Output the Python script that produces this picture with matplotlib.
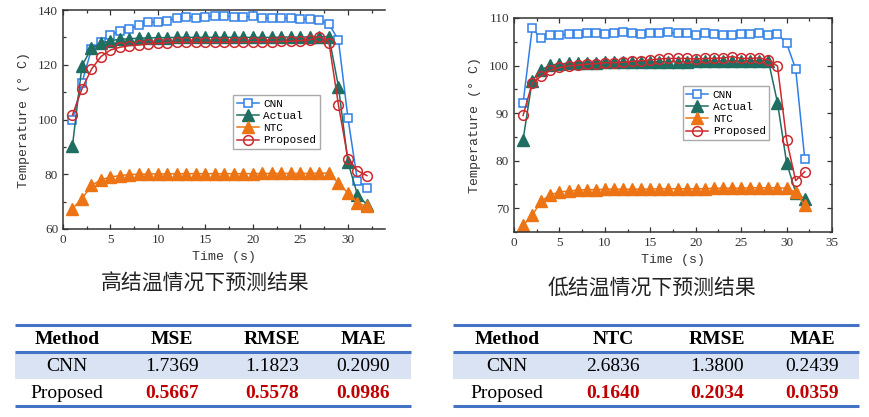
import numpy as np
import matplotlib
matplotlib.use("Agg")
import matplotlib.pyplot as plt
from matplotlib.ticker import MultipleLocator

plt.rcParams['font.family'] = ['Liberation Serif', 'DejaVu Serif']

# ---- data: high junction temperature ----
t = list(range(1, 33))
hi_cnn = [99.9, 113.5, 125.7, 128.4, 130.9, 132.3, 133.0, 134.7, 135.6, 135.5, 136.1,
          137.0, 137.6, 137.2, 137.6, 137.8, 137.8, 137.6, 137.3, 137.8, 137.0, 137.1,
          137.1, 137.0, 136.7, 136.6, 136.2, 134.9, 129.0, 100.5, 77.6, 75.0]
hi_actual = [90.5, 119.7, 126.0, 127.8, 128.8, 129.3, 129.5, 129.7, 129.8, 129.9, 129.9,
             130.0, 130.0, 130.0, 130.0, 130.0, 130.0, 130.0, 130.0, 130.0, 130.0, 130.0,
             130.1, 130.1, 130.1, 130.2, 130.2, 130.3, 112.0, 84.4, 72.5, 68.9]
hi_ntc = [67.4, 71.1, 75.9, 78.0, 79.0, 79.5, 79.9, 80.0, 80.1, 80.1, 80.1,
          80.2, 80.2, 80.2, 80.2, 80.2, 80.2, 80.2, 80.2, 80.2, 80.3, 80.3,
          80.3, 80.3, 80.3, 80.3, 80.4, 80.4, 76.8, 73.1, 69.5, 68.3]
hi_prop = [101.7, 111.2, 118.4, 123.0, 125.4, 126.4, 127.0, 127.2, 127.7, 127.8, 128.1,
           128.2, 128.2, 128.2, 128.2, 128.2, 128.2, 128.3, 128.3, 128.4, 128.4, 128.4,
           128.5, 128.6, 128.8, 129.1, 130.3, 128.1, 105.3, 85.7, 81.3, 79.5]

# ---- data: low junction temperature ----
lo_cnn = [92.1, 107.8, 105.7, 106.4, 106.4, 106.6, 106.6, 106.9, 106.9, 106.6, 106.8,
          107.0, 106.8, 106.6, 106.9, 106.8, 107.0, 106.8, 106.8, 106.5, 106.8, 106.6,
          106.5, 106.4, 106.7, 106.6, 106.8, 106.4, 106.6, 104.7, 99.3, 80.4]
lo_actual = [84.4, 96.8, 99.1, 100.1, 100.3, 100.5, 100.6, 100.6, 100.6, 100.7, 100.7,
             100.7, 100.7, 100.8, 100.8, 100.8, 100.8, 100.8, 100.8, 100.9, 100.9, 100.9,
             100.9, 100.9, 100.9, 101.0, 101.0, 101.0, 92.2, 79.6, 73.3, 71.9]
lo_ntc = [66.4, 68.5, 71.5, 72.8, 73.4, 73.6, 73.8, 73.9, 73.9, 74.0, 74.0,
          74.0, 74.0, 74.0, 74.0, 74.1, 74.1, 74.1, 74.1, 74.1, 74.1, 74.2,
          74.2, 74.2, 74.2, 74.3, 74.3, 74.3, 74.3, 74.2, 73.4, 70.6]
lo_prop = [89.5, 96.3, 97.8, 99.0, 99.6, 99.9, 100.1, 100.3, 100.4, 100.6, 100.6,
           100.7, 100.9, 101.0, 101.2, 101.4, 101.5, 101.5, 101.5, 101.4, 101.5, 101.5,
           101.6, 101.9, 101.5, 101.5, 101.6, 101.2, 99.9, 84.4, 75.8, 77.7]

# ---- tables ----
tab_cols_hi = ['Method', 'MSE', 'RMSE', 'MAE']
tab_cols_lo = ['Method', 'NTC', 'RMSE', 'MAE']
methods = ['CNN', 'Proposed']
tab_hi = [['1.7369', '1.1823', '0.2090'], ['0.5667', '0.5578', '0.0986']]
tab_lo = [['2.6836', '1.3800', '0.2439'], ['0.1640', '0.2034', '0.0359']]

captions = ['高结温情况下预测结果', '低结温情况下预测结果']

C_CNN = '#2f7fe6'
C_ACT = '#1f6e62'
C_NTC = '#ec7414'
C_PRO = '#cc2a2e'
LINE_BLUE = '#4472c4'


def draw_chart(ax, cnn, actual, ntc, prop):
    ax.plot(t, cnn, color=C_CNN, lw=1.1, marker='s', ms=5.5, mfc='white',
            mec=C_CNN, mew=1.1, label='CNN')
    ax.plot(t, actual, color=C_ACT, lw=1.1, marker='^', ms=8, label='Actual')
    ax.plot(t, ntc, color=C_NTC, lw=1.1, marker='^', ms=8, label='NTC')
    ax.plot(t, prop, color=C_PRO, lw=1.1, marker='o', ms=7, mfc='none',
            mec=C_PRO, mew=1.1, label='Proposed')
    ax.xaxis.set_major_locator(MultipleLocator(5))
    ax.xaxis.set_minor_locator(MultipleLocator(2.5))
    ax.tick_params(which='both', direction='in', top=True, labelsize=9.5,
                   colors='#333333', width=0.9)
    ax.tick_params(which='major', length=3.5)
    ax.tick_params(which='minor', length=2.5)
    for s in ax.spines.values():
        s.set_color('#333333')
        s.set_linewidth(1.1)
    ax.set_xlabel('Time (s)', fontsize=9.5, family=['Liberation Mono'], color='#333333',
                  labelpad=4)
    ax.set_ylabel('Temperature (° C)', fontsize=9.5, family=['Liberation Mono'],
                  color='#333333', labelpad=6)


fig = plt.figure(figsize=(8.7, 4.17), dpi=100)

ax1 = fig.add_axes([63 / 870, 1 - 229 / 417, 322 / 870, 219 / 417])
draw_chart(ax1, hi_cnn, hi_actual, hi_ntc, hi_prop)
ax1.set_xlim(0, 33.9)
ax1.set_ylim(60, 140)
ax1.yaxis.set_major_locator(MultipleLocator(20))
ax1.yaxis.set_minor_locator(MultipleLocator(10))
ax1.spines['right'].set_visible(False)
ax1.legend(loc='upper left', bbox_to_anchor=(0.512, 0.635),
           prop={'family': 'Liberation Mono', 'size': 8},
           fancybox=False, edgecolor='#aaaaaa', framealpha=1,
           labelspacing=0.2, borderpad=0.3, handlelength=2.0, handletextpad=0.4)

ax2 = fig.add_axes([514 / 870, 1 - 232 / 417, 318 / 870, 214 / 417])
draw_chart(ax2, lo_cnn, lo_actual, lo_ntc, lo_prop)
ax2.set_xlim(0, 35)
ax2.set_ylim(65, 110)
ax2.yaxis.set_major_locator(MultipleLocator(10))
ax2.yaxis.set_minor_locator(MultipleLocator(5))
ax2.tick_params(which='both', right=True)
ax2.legend(loc='upper left', bbox_to_anchor=(0.513, 0.706),
           prop={'family': 'Liberation Mono', 'size': 8},
           fancybox=False, edgecolor='#aaaaaa', framealpha=1,
           labelspacing=0.2, borderpad=0.3, handlelength=2.0, handletextpad=0.4)

# overlay in pixel coordinates for captions and tables
ov = fig.add_axes([0, 0, 1, 1])
ov.set_xlim(0, 870)
ov.set_ylim(417, 0)
ov.axis('off')

cjk = ['Noto Sans CJK SC', 'DejaVu Sans']
ov.text(205, 284, captions[0], ha='center', va='center', fontsize=15, family=cjk,
        color='#222222')
ov.text(652, 288, captions[1], ha='center', va='center', fontsize=15, family=cjk,
        color='#222222')


def draw_table(x0, x1, centers, cols, vals):
    top, rh = 325, 27
    ov.fill_between([x0, x1], top + rh, top + 2 * rh, color='#dae3f3', lw=0)
    for y in (top, top + rh, top + 3 * rh):
        ov.plot([x0, x1], [y, y], color=LINE_BLUE, lw=2.2, solid_capstyle='butt')
    for c, name in zip(centers, cols):
        ov.text(c, top + rh / 2 + 1, name, ha='center', va='center', fontsize=14,
                fontweight='bold', color='black')
    for r, (m, row) in enumerate(zip(methods, vals)):
        yc = top + rh * (r + 1.5) + 1
        ov.text(centers[0], yc, m, ha='center', va='center', fontsize=14, color='black')
        for c, v in zip(centers[1:], row):
            if r == 1:
                ov.text(c, yc, v, ha='center', va='center', fontsize=14,
                        fontweight='bold', color='#c00000')
            else:
                ov.text(c, yc, v, ha='center', va='center', fontsize=14, color='black')


draw_table(15, 411, [67, 172, 272, 363], tab_cols_hi, tab_hi)
draw_table(453, 859, [507, 613, 717, 812], tab_cols_lo, tab_lo)

fig.savefig('out.png', dpi=100)
